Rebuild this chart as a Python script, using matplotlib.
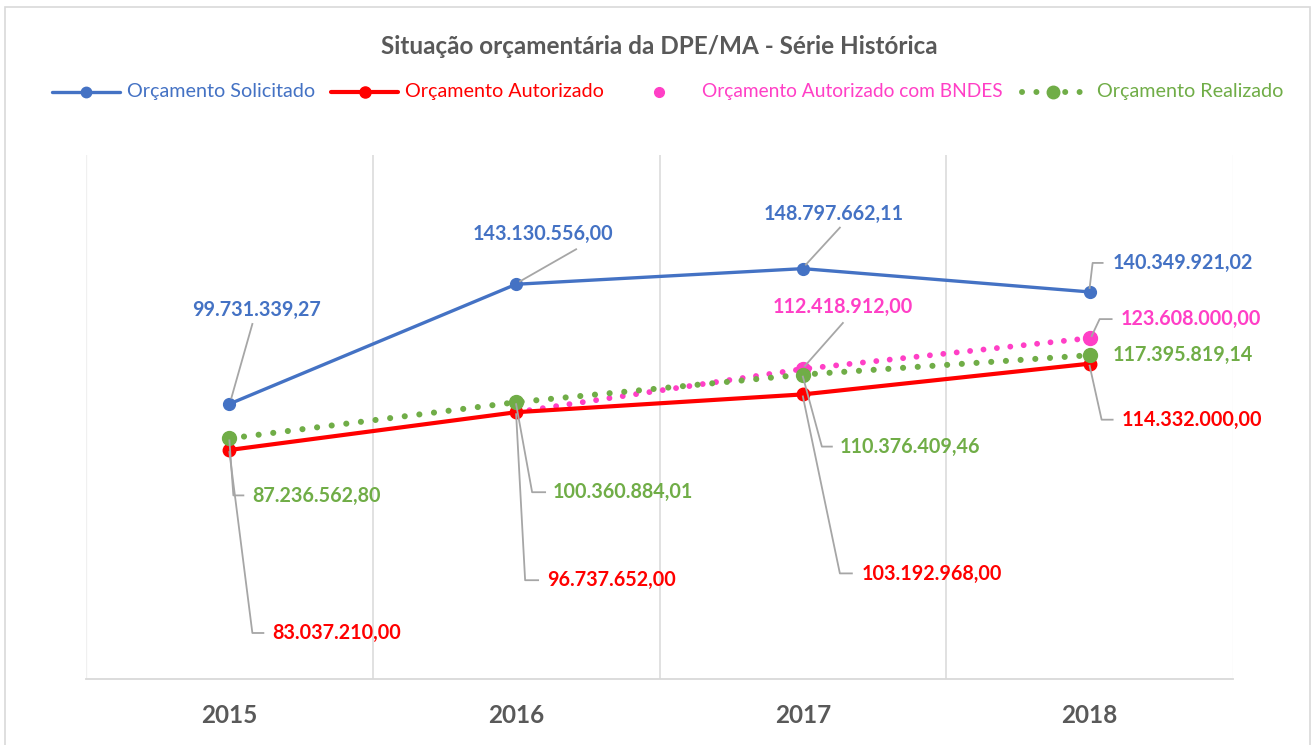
import matplotlib
matplotlib.use("Agg")
import matplotlib.pyplot as plt
from matplotlib.lines import Line2D
from matplotlib.patches import Rectangle
import numpy as np

# ---------------- data ----------------
years = ["2015", "2016", "2017", "2018"]
solicitado = [99731339.27, 143130556.00, 148797662.11, 140349921.02]
autorizado = [83037210.00, 96737652.00, 103192968.00, 114332000.00]
autorizado_bndes = [np.nan, 96737652.00, 112418912.00, 123608000.00]
realizado = [87236562.80, 100360884.01, 110376409.46, 117395819.14]

series_names = ["Orçamento Solicitado", "Orçamento Autorizado",
                "Orçamento Autorizado com BNDES", "Orçamento Realizado"]
title = "Situação orçamentária da DPE/MA - Série Histórica"

BLUE = "#4472C4"
RED = "#FF0000"
PINK = "#FF3FC6"
GREEN = "#70AD47"
GRAY_T = "#595959"
LEADER = "#A6A6A6"
GRID = "#D9D9D9"

plt.rcParams['font.family'] = ['Lato', 'DejaVu Sans']

W, H = 1314, 745
fig = plt.figure(figsize=(W / 100, H / 100), dpi=100)

# figure border
fig.patches.append(Rectangle((5 / W, -0.01), (1310 - 5) / W, (745 - 7) / H + 0.01,
                             transform=fig.transFigure, fill=False,
                             edgecolor="#D9D9D9", lw=1.2))

# plot area: x 86..1233, y 155..679 (image px)
L, R, T, B = 86, 1233, 155, 679
ax = fig.add_axes([L / W, (H - B) / H, (R - L) / W, (B - T) / H])
ax.set_xlim(-0.5, 3.5)
ax.set_ylim(0, 190e6)
for s in ["left", "right", "top"]:
    ax.spines[s].set_visible(False)
ax.spines["bottom"].set_color(GRID)
ax.spines["bottom"].set_linewidth(1.3)
ax.set_yticks([])
x = np.arange(len(years))
ax.set_xticks(x)
ax.set_xticklabels(years, fontsize=17.5, fontweight="bold", color=GRAY_T)
ax.tick_params(axis="x", length=0, pad=18)
for b in [0.5, 1.5, 2.5]:
    ax.axvline(b, color=GRID, lw=1.1, zorder=0)
for b in [-0.5, 3.5]:
    ax.axvline(b, color="#F0F0F0", lw=1.0, zorder=0)

# series
ax.plot(x, solicitado, color=BLUE, lw=2.4, marker="o", ms=8.5, zorder=5,
        solid_capstyle="round")
ax.plot(x, autorizado, color=RED, lw=3.0, marker="o", ms=9, zorder=4,
        solid_capstyle="round")
ax.plot(x, autorizado_bndes, color=PINK, lw=4.2, linestyle=(0, (0.01, 2.3)),
        dash_capstyle="round", marker="o", ms=10, markevery=[2, 3], zorder=3)
ax.plot(x, realizado, color=GREEN, lw=4.4, linestyle=(0, (0.01, 2.4)),
        dash_capstyle="round", marker="o", ms=10, zorder=6)

# ---------------- labels with leader lines ----------------
def fmt(v):
    s = f"{v:,.2f}"
    return s.replace(",", "X").replace(".", ",").replace("X", ".")

# (series values, colour, index, text offset px (dx, dy-down), ha, leader vertices px)
labels = [
    (solicitado, BLUE, 0, (27, -94), "center", [(2, -6), (23, -80)]),
    (solicitado, BLUE, 1, (27, -50), "center", [(4, -3), (60, -35)]),
    (solicitado, BLUE, 2, (31, -55), "center", [(3, -4), (37, -41)]),
    (solicitado, BLUE, 3, (23, -29), "left", [(0, -4), (3, -29), (13, -29)]),
    (autorizado_bndes, PINK, 2, (40, -62), "center", [(2, -3), (40, -46)]),
    (autorizado_bndes, PINK, 3, (31, -19), "left", [(2, -2), (10, -19), (22, -19)]),
    (realizado, GREEN, 0, (23, 58), "left", [(0, 2), (4, 57), (14, 57)]),
    (realizado, GREEN, 1, (37, 90), "left", [(0, 2), (16, 90), (29, 90)]),
    (realizado, GREEN, 2, (37, 72), "left", [(0, 2), (19, 72), (29, 72)]),
    (realizado, GREEN, 3, (23, 0), "left", []),
    (autorizado, RED, 0, (43, 183), "left", [(0, 2), (23, 183), (34, 183)]),
    (autorizado, RED, 1, (31, 168), "left", [(0, 2), (9, 168), (22, 168)]),
    (autorizado, RED, 2, (59, 180), "left", [(0, 2), (37, 179), (49, 179)]),
    (autorizado, RED, 3, (32, 56), "left", [(0, 2), (12, 56), (23, 56)]),
]

ident = matplotlib.transforms.IdentityTransform()
for vals, col, i, (dx, dy), ha, verts in labels:
    v = vals[i]
    px, py = ax.transData.transform((x[i], v))
    ax.annotate(fmt(v), xy=(x[i], v), xytext=(dx, -dy), textcoords="offset pixels",
                ha=ha, va="center", fontsize=14.2, fontweight="bold", color=col,
                zorder=8)
    if verts:
        xs = [px + a for a, b in verts]
        ys = [py - b for a, b in verts]
        fig.add_artist(Line2D(xs, ys, transform=ident, color=LEADER, lw=1.3,
                              zorder=7))

# ---------------- title ----------------
fig.text(659 / W, 1 - 46 / H, title, ha="center", va="center", fontsize=17.5,
         fontweight="bold", color=GRAY_T)

# ---------------- legend (manual) ----------------
ly = 1 - 92 / H
LFS = 14.2
def fx(p):
    return p / W
# blue
fig.add_artist(Line2D([fx(52), fx(120)], [ly, ly], color=BLUE, lw=2.4,
                      solid_capstyle="round"))
fig.add_artist(Line2D([fx(86)], [ly], color=BLUE, marker="o", ms=7.5, lw=0))
fig.text(fx(127), ly, series_names[0], color=BLUE, fontsize=LFS, va="center")
# red
fig.add_artist(Line2D([fx(331), fx(398)], [ly, ly], color=RED, lw=3.0,
                      solid_capstyle="round"))
fig.add_artist(Line2D([fx(365)], [ly], color=RED, marker="o", ms=8, lw=0))
fig.text(fx(405), ly, series_names[1], color=RED, fontsize=LFS, va="center")
# pink (marker only)
fig.add_artist(Line2D([fx(659)], [ly], color=PINK, marker="o", ms=7, lw=0))
fig.text(fx(702), ly, series_names[2], color=PINK, fontsize=13.8, va="center")
# green dotted
fig.add_artist(Line2D([fx(1022), fx(1084)], [ly, ly], color=GREEN, lw=4.3,
                      linestyle=(0, (0.01, 2.4)), dash_capstyle="round"))
fig.add_artist(Line2D([fx(1053)], [ly], color=GREEN, marker="o", ms=9, lw=0))
fig.text(fx(1097), ly, series_names[3], color=GREEN, fontsize=LFS, va="center")

fig.savefig("out.png", dpi=100)
